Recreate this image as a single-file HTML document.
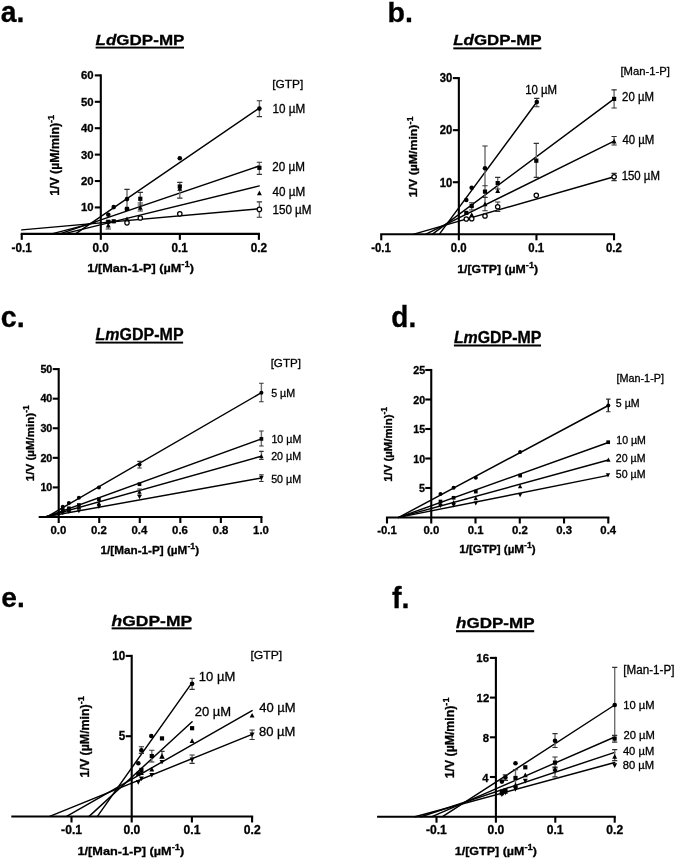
<!DOCTYPE html><html><head><meta charset="utf-8"><style>html,body{margin:0;padding:0;background:#fff;}svg{display:block;filter:grayscale(1) blur(0.3px);}text{font-family:"Liberation Sans", sans-serif;}</style></head><body>
<svg width="675" height="859" viewBox="0 0 675 859">
<rect width="675" height="859" fill="#fff"/>
<g stroke="#000" stroke-width="2.1" fill="none"><line x1="20.7" y1="233.85" x2="259.95" y2="233.85"/><line x1="100.8" y1="74.34" x2="100.8" y2="239.85"/><line x1="21.75" y1="233.85" x2="21.75" y2="239.85"/><line x1="179.85" y1="233.85" x2="179.85" y2="239.85"/><line x1="258.9" y1="233.85" x2="258.9" y2="239.85"/><line x1="94.8" y1="207.44" x2="100.8" y2="207.44"/><line x1="94.8" y1="181.03" x2="100.8" y2="181.03"/><line x1="94.8" y1="154.62" x2="100.8" y2="154.62"/><line x1="94.8" y1="128.21" x2="100.8" y2="128.21"/><line x1="94.8" y1="101.8" x2="100.8" y2="101.8"/><line x1="94.8" y1="75.39" x2="100.8" y2="75.39"/></g>
<g stroke="#000" stroke-width="1.45" fill="none" stroke-linecap="round"><line x1="75.5" y1="233.85" x2="258.9" y2="108.4"/><line x1="59.8" y1="233.85" x2="259.2" y2="166"/><line x1="63.5" y1="233.85" x2="259.2" y2="185.9"/><line x1="51.7" y1="233.85" x2="95" y2="222.6"/><line x1="21.8" y1="229.9" x2="259.2" y2="208.8"/></g>
<path d="M127 189.3V209M259.4 100.7V116.6M140.3 192.4V205M259.4 162.2V174.3M108.3 221V229M140.3 203V211M179.8 182.4V198.1M259.4 201.9V217.2" stroke="#6e6e6e" stroke-width="1.4" fill="none"/>
<path d="M124.35 189.3H129.65M124.35 209H129.65M256.75 100.7H262.05M256.75 116.6H262.05M137.65 192.4H142.95M137.65 205H142.95M256.75 162.2H262.05M256.75 174.3H262.05M105.65 221H110.95M105.65 229H110.95M137.65 203H142.95M137.65 211H142.95M177.15 182.4H182.45M177.15 198.1H182.45M256.75 201.9H262.05M256.75 217.2H262.05" stroke="#303030" stroke-width="1.15" fill="none"/>
<g fill="#000"><circle cx="108.3" cy="214.7" r="2.3"/><circle cx="113.7" cy="207.1" r="2.3"/><circle cx="127" cy="199.1" r="2.3"/><circle cx="179.8" cy="158.3" r="2.3"/><circle cx="259.4" cy="108.6" r="2.3"/><rect x="124.9" y="206.8" width="4.2" height="4.2"/><rect x="138.2" y="196.7" width="4.2" height="4.2"/><rect x="111.6" y="219.2" width="4.2" height="4.2"/><rect x="106.2" y="219.7" width="4.2" height="4.2"/><rect x="257.3" y="165.7" width="4.2" height="4.2"/><rect x="177.7" y="184.4" width="4.2" height="4.2"/><path d="M108.3 222.8L110.75 227.5L105.85 227.5Z"/><path d="M127 216.6L129.45 221.3L124.55 221.3Z"/><path d="M140.3 205.1L142.75 209.8L137.85 209.8Z"/><path d="M179.8 186L182.25 190.7L177.35 190.7Z"/><path d="M259.4 190.5L261.85 195.2L256.95 195.2Z"/><circle cx="127" cy="222.8" r="2.2" fill="#fff" stroke="#000" stroke-width="1.25"/><circle cx="140.3" cy="218" r="2.2" fill="#fff" stroke="#000" stroke-width="1.25"/><circle cx="179.8" cy="213.8" r="2.2" fill="#fff" stroke="#000" stroke-width="1.25"/><circle cx="259.4" cy="209.4" r="2.2" fill="#fff" stroke="#000" stroke-width="1.25"/></g>
<rect x="95.6" y="46.65" width="88.4" height="1.9" fill="#000"/>
<g stroke="#000" stroke-width="2.1" fill="none"><line x1="380.2" y1="234.3" x2="615.1" y2="234.3"/><line x1="458.85" y1="77.04" x2="458.85" y2="240.3"/><line x1="381.25" y1="234.3" x2="381.25" y2="240.3"/><line x1="536.45" y1="234.3" x2="536.45" y2="240.3"/><line x1="614.05" y1="234.3" x2="614.05" y2="240.3"/><line x1="452.85" y1="182.23" x2="458.85" y2="182.23"/><line x1="452.85" y1="130.16" x2="458.85" y2="130.16"/><line x1="452.85" y1="78.09" x2="458.85" y2="78.09"/></g>
<g stroke="#000" stroke-width="1.45" fill="none" stroke-linecap="round"><line x1="439.4" y1="234.1" x2="536.8" y2="102"/><line x1="432.5" y1="234.1" x2="614.1" y2="98.9"/><line x1="426" y1="234.1" x2="614.1" y2="141.2"/><line x1="413.9" y1="234.1" x2="614.1" y2="176.7"/></g>
<path d="M485 146V210.7M536.8 98.4V106.7M471.7 202.7V210M485 185.7V197.3M497.7 177.3V189M536.3 143.3V177.3M614.1 89.8V108M614.1 136.5V145M497.7 202V211.3M614.1 173.3V180.6" stroke="#6e6e6e" stroke-width="1.4" fill="none"/>
<path d="M482.35 146H487.65M482.35 210.7H487.65M534.15 98.4H539.45M534.15 106.7H539.45M469.05 202.7H474.35M469.05 210H474.35M482.35 185.7H487.65M482.35 197.3H487.65M495.05 177.3H500.35M495.05 189H500.35M533.65 143.3H538.95M533.65 177.3H538.95M611.45 89.8H616.75M611.45 108H616.75M611.45 136.5H616.75M611.45 145H616.75M495.05 202H500.35M495.05 211.3H500.35M611.45 173.3H616.75M611.45 180.6H616.75" stroke="#303030" stroke-width="1.15" fill="none"/>
<g fill="#000"><circle cx="466.3" cy="200" r="2.3"/><circle cx="471.7" cy="187.7" r="2.3"/><circle cx="485" cy="168.3" r="2.3"/><circle cx="536.8" cy="102" r="2.3"/><rect x="464.2" y="210.8" width="4.2" height="4.2"/><rect x="469.6" y="203.9" width="4.2" height="4.2"/><rect x="482.9" y="189.5" width="4.2" height="4.2"/><rect x="495.6" y="181" width="4.2" height="4.2"/><rect x="534.2" y="158.6" width="4.2" height="4.2"/><rect x="612" y="96.8" width="4.2" height="4.2"/><path d="M471.7 212.2L474.15 216.9L469.25 216.9Z"/><path d="M485 201.5L487.45 206.2L482.55 206.2Z"/><path d="M497.7 188.2L500.15 192.9L495.25 192.9Z"/><path d="M614.1 138.7L616.55 143.4L611.65 143.4Z"/><circle cx="466.3" cy="219" r="2.2" fill="#fff" stroke="#000" stroke-width="1.25"/><circle cx="471.7" cy="218.7" r="2.2" fill="#fff" stroke="#000" stroke-width="1.25"/><circle cx="485" cy="216" r="2.2" fill="#fff" stroke="#000" stroke-width="1.25"/><circle cx="497.7" cy="206.7" r="2.2" fill="#fff" stroke="#000" stroke-width="1.25"/><circle cx="536.3" cy="195.3" r="2.2" fill="#fff" stroke="#000" stroke-width="1.25"/><circle cx="614.1" cy="176.7" r="2.2" fill="#fff" stroke="#000" stroke-width="1.25"/></g>
<rect x="453.3" y="47.35" width="88" height="2" fill="#000"/>
<g stroke="#000" stroke-width="2.1" fill="none"><line x1="38.71" y1="517" x2="262.45" y2="517"/><line x1="58.7" y1="368.05" x2="58.7" y2="523"/><line x1="99.24" y1="517" x2="99.24" y2="523"/><line x1="139.78" y1="517" x2="139.78" y2="523"/><line x1="180.32" y1="517" x2="180.32" y2="523"/><line x1="220.86" y1="517" x2="220.86" y2="523"/><line x1="261.4" y1="517" x2="261.4" y2="523"/><line x1="52.7" y1="487.42" x2="58.7" y2="487.42"/><line x1="52.7" y1="457.84" x2="58.7" y2="457.84"/><line x1="52.7" y1="428.26" x2="58.7" y2="428.26"/><line x1="52.7" y1="398.68" x2="58.7" y2="398.68"/><line x1="52.7" y1="369.1" x2="58.7" y2="369.1"/></g>
<g stroke="#000" stroke-width="1.45" fill="none" stroke-linecap="round"><line x1="46.1" y1="517.3" x2="261.4" y2="392.7"/><line x1="45" y1="517.3" x2="261.4" y2="438.9"/><line x1="44" y1="517.3" x2="261.4" y2="456.2"/><line x1="43" y1="517.3" x2="261.4" y2="478"/></g>
<path d="M139.5 461.4V468M261.4 383.2V401.7M261.4 431V446M139.5 489V495M261.4 451.4V459.5M261.4 474.9V481.5" stroke="#6e6e6e" stroke-width="1.4" fill="none"/>
<path d="M137.25 461.4H141.75M137.25 468H141.75M259.15 383.2H263.65M259.15 401.7H263.65M259.15 431H263.65M259.15 446H263.65M137.25 489H141.75M137.25 495H141.75M259.15 451.4H263.65M259.15 459.5H263.65M259.15 474.9H263.65M259.15 481.5H263.65" stroke="#303030" stroke-width="1.15" fill="none"/>
<g fill="#000"><circle cx="62.8" cy="506.7" r="2.02"/><circle cx="68.9" cy="503.1" r="2.02"/><circle cx="78.9" cy="497.8" r="2.02"/><circle cx="98.9" cy="487.6" r="2.02"/><circle cx="139.5" cy="464.5" r="2.02"/><circle cx="261.4" cy="392.7" r="2.02"/><rect x="60.95" y="508.15" width="3.7" height="3.7"/><rect x="67.05" y="506.45" width="3.7" height="3.7"/><rect x="77.05" y="503.15" width="3.7" height="3.7"/><rect x="97.05" y="497.35" width="3.7" height="3.7"/><rect x="137.65" y="482.35" width="3.7" height="3.7"/><rect x="259.55" y="437.05" width="3.7" height="3.7"/><path d="M62.8 509.3L64.96 513.44L60.64 513.44Z"/><path d="M68.9 507.8L71.06 511.94L66.74 511.94Z"/><path d="M78.9 504.8L81.06 508.94L76.74 508.94Z"/><path d="M98.9 501.1L101.06 505.24L96.74 505.24Z"/><path d="M139.5 489.7L141.66 493.84L137.34 493.84Z"/><path d="M261.4 454L263.56 458.14L259.24 458.14Z"/><path d="M62.8 515.2L64.96 511.06L60.64 511.06Z"/><path d="M68.9 513.7L71.06 509.56L66.74 509.56Z"/><path d="M78.9 513.3L81.06 509.16L76.74 509.16Z"/><path d="M98.9 508.9L101.06 504.76L96.74 504.76Z"/><path d="M139.5 499.2L141.66 495.06L137.34 495.06Z"/><path d="M261.4 480.2L263.56 476.06L259.24 476.06Z"/></g>
<rect x="95.6" y="341.65" width="87.5" height="1.9" fill="#000"/>
<g stroke="#000" stroke-width="2.1" fill="none"><line x1="385.94" y1="517.5" x2="609.34" y2="517.5"/><line x1="431.25" y1="368.95" x2="431.25" y2="523.5"/><line x1="386.99" y1="517.5" x2="386.99" y2="523.5"/><line x1="475.51" y1="517.5" x2="475.51" y2="523.5"/><line x1="519.77" y1="517.5" x2="519.77" y2="523.5"/><line x1="564.03" y1="517.5" x2="564.03" y2="523.5"/><line x1="608.29" y1="517.5" x2="608.29" y2="523.5"/><line x1="425.25" y1="488" x2="431.25" y2="488"/><line x1="425.25" y1="458.5" x2="431.25" y2="458.5"/><line x1="425.25" y1="429" x2="431.25" y2="429"/><line x1="425.25" y1="399.5" x2="431.25" y2="399.5"/><line x1="425.25" y1="370" x2="431.25" y2="370"/></g>
<g stroke="#000" stroke-width="1.45" fill="none" stroke-linecap="round"><line x1="398.7" y1="517.4" x2="608.3" y2="405.5"/><line x1="398.7" y1="517.4" x2="608.3" y2="442.5"/><line x1="398.7" y1="517.4" x2="608.3" y2="460"/><line x1="398.7" y1="517.4" x2="608.3" y2="475.4"/></g>
<path d="M608.3 399.1V411.7" stroke="#1a1a1a" stroke-width="1.4" fill="none"/>
<path d="M606.05 399.1H610.55M606.05 411.7H610.55" stroke="#303030" stroke-width="1.15" fill="none"/>
<g fill="#000"><circle cx="440.5" cy="493.9" r="2.02"/><circle cx="453.6" cy="487.7" r="2.02"/><circle cx="475.8" cy="477.8" r="2.02"/><circle cx="520.1" cy="452" r="2.02"/><circle cx="608.3" cy="405.5" r="2.02"/><rect x="438.65" y="499.65" width="3.7" height="3.7"/><rect x="451.75" y="495.95" width="3.7" height="3.7"/><rect x="473.95" y="489.75" width="3.7" height="3.7"/><rect x="518.25" y="473.75" width="3.7" height="3.7"/><rect x="606.35" y="440.35" width="3.7" height="3.7"/><path d="M440.5 501.5L442.66 505.64L438.34 505.64Z"/><path d="M453.6 500L455.76 504.14L451.44 504.14Z"/><path d="M475.8 496L477.96 500.14L473.64 500.14Z"/><path d="M520.1 484L522.26 488.14L517.94 488.14Z"/><path d="M608.4 457.6L610.56 461.74L606.24 461.74Z"/><path d="M440.5 508.1L442.66 503.96L438.34 503.96Z"/><path d="M453.6 507.4L455.76 503.26L451.44 503.26Z"/><path d="M475.8 505.6L477.96 501.46L473.64 501.46Z"/><path d="M520.1 497.3L522.26 493.16L517.94 493.16Z"/><path d="M608 477.4L610.16 473.26L605.84 473.26Z"/></g>
<rect x="453.9" y="344.5" width="87.1" height="2" fill="#000"/>
<g stroke="#000" stroke-width="2.1" fill="none"><line x1="11.3" y1="816.5" x2="253.15" y2="816.5"/><line x1="131.7" y1="654.85" x2="131.7" y2="822.5"/><line x1="71.5" y1="816.5" x2="71.5" y2="822.5"/><line x1="191.9" y1="816.5" x2="191.9" y2="822.5"/><line x1="252.1" y1="816.5" x2="252.1" y2="822.5"/><line x1="125.7" y1="736.2" x2="131.7" y2="736.2"/><line x1="125.7" y1="655.9" x2="131.7" y2="655.9"/></g>
<g stroke="#000" stroke-width="1.45" fill="none" stroke-linecap="round"><line x1="97.4" y1="816.4" x2="191.2" y2="683.8"/><line x1="89.1" y1="816.4" x2="192.1" y2="721.8"/><line x1="66.6" y1="816.4" x2="252.1" y2="710.6"/><line x1="49.7" y1="816.4" x2="252.1" y2="734.3"/></g>
<path d="M141.4 746.7V753.3M192.1 678.4V689.3M151.8 750.2V762M162 751.4V758.5M192.1 755V763.3M252.1 730V739.5" stroke="#6e6e6e" stroke-width="1.4" fill="none"/>
<path d="M138.8 746.7H144M138.8 753.3H144M189.5 678.4H194.7M189.5 689.3H194.7M149.2 750.2H154.4M149.2 762H154.4M159.4 751.4H164.6M159.4 758.5H164.6M189.5 755H194.7M189.5 763.3H194.7M249.5 730H254.7M249.5 739.5H254.7" stroke="#303030" stroke-width="1.15" fill="none"/>
<g fill="#000"><circle cx="138.3" cy="763.3" r="2.3"/><circle cx="141.4" cy="750.2" r="2.3"/><circle cx="151.3" cy="736" r="2.3"/><circle cx="192.1" cy="683.8" r="2.3"/><rect x="136.2" y="771.8" width="4.2" height="4.2"/><rect x="139.3" y="767.8" width="4.2" height="4.2"/><rect x="149.7" y="754" width="4.2" height="4.2"/><rect x="159.9" y="736.3" width="4.2" height="4.2"/><rect x="190" y="726.1" width="4.2" height="4.2"/><path d="M141.4 770.2L143.85 774.9L138.95 774.9Z"/><path d="M151.8 766.7L154.25 771.4L149.35 771.4Z"/><path d="M162 753.2L164.45 757.9L159.55 757.9Z"/><path d="M192.1 738.2L194.55 742.9L189.65 742.9Z"/><path d="M252.1 712.9L254.55 717.6L249.65 717.6Z"/><path d="M138.3 784.7L140.75 780L135.85 780Z"/><path d="M141.4 781.2L143.85 776.5L138.95 776.5Z"/><path d="M151.8 777.6L154.25 772.9L149.35 772.9Z"/><path d="M162 764.6L164.45 759.9L159.55 759.9Z"/><path d="M192.1 762.2L194.55 757.5L189.65 757.5Z"/><path d="M252.1 737.3L254.55 732.6L249.65 732.6Z"/></g>
<rect x="111.6" y="627.35" width="80" height="2" fill="#000"/>
<g stroke="#000" stroke-width="2.1" fill="none"><line x1="377.1" y1="816.7" x2="615.75" y2="816.7"/><line x1="495.9" y1="656.85" x2="495.9" y2="822.7"/><line x1="436.5" y1="816.7" x2="436.5" y2="822.7"/><line x1="555.3" y1="816.7" x2="555.3" y2="822.7"/><line x1="614.7" y1="816.7" x2="614.7" y2="822.7"/><line x1="489.9" y1="777" x2="495.9" y2="777"/><line x1="489.9" y1="737.3" x2="495.9" y2="737.3"/><line x1="489.9" y1="697.6" x2="495.9" y2="697.6"/><line x1="489.9" y1="657.9" x2="495.9" y2="657.9"/></g>
<g stroke="#000" stroke-width="1.45" fill="none" stroke-linecap="round"><line x1="442.5" y1="816.7" x2="614.7" y2="705"/><line x1="432" y1="816.7" x2="613.6" y2="737.5"/><line x1="421" y1="816.7" x2="614.7" y2="752.4"/><line x1="415" y1="816.7" x2="614.7" y2="762.5"/></g>
<path d="M505.4 774.8V780.4M555 733.6V747.5M614.7 667.4V742M515.5 769.7V786M555 757V768M614.6 735.4V742.1M614.7 749.6V760.6M555 767V776.8" stroke="#6e6e6e" stroke-width="1.4" fill="none"/>
<path d="M502.8 774.8H508M502.8 780.4H508M552.4 733.6H557.6M552.4 747.5H557.6M612.1 667.4H617.3M612.1 742H617.3M512.9 769.7H518.1M512.9 786H518.1M552.4 757H557.6M552.4 768H557.6M612 735.4H617.2M612 742.1H617.2M612.1 749.6H617.3M612.1 760.6H617.3M552.4 767H557.6M552.4 776.8H557.6" stroke="#303030" stroke-width="1.15" fill="none"/>
<g fill="#000"><circle cx="501.9" cy="781.6" r="2.3"/><circle cx="505.4" cy="777.4" r="2.3"/><circle cx="515.5" cy="763.2" r="2.3"/><circle cx="555" cy="740.7" r="2.3"/><circle cx="614.7" cy="705" r="2.3"/><rect x="499.8" y="789.5" width="4.2" height="4.2"/><rect x="503.3" y="788.3" width="4.2" height="4.2"/><rect x="513.4" y="775.9" width="4.2" height="4.2"/><rect x="523.2" y="765.2" width="4.2" height="4.2"/><rect x="552.9" y="760.5" width="4.2" height="4.2"/><rect x="612.5" y="736.5" width="4.2" height="4.2"/><path d="M501.9 790.5L504.35 795.2L499.45 795.2Z"/><path d="M505.4 789L507.85 793.7L502.95 793.7Z"/><path d="M515.5 782.5L517.95 787.2L513.05 787.2Z"/><path d="M525.3 772.5L527.75 777.2L522.85 777.2Z"/><path d="M555 766.6L557.45 771.3L552.55 771.3Z"/><path d="M614.7 754L617.15 758.7L612.25 758.7Z"/><path d="M501.9 797.1L504.35 792.4L499.45 792.4Z"/><path d="M505.4 795.3L507.85 790.6L502.95 790.6Z"/><path d="M515.5 791.8L517.95 787.1L513.05 787.1Z"/><path d="M525.3 783.5L527.75 778.8L522.85 778.8Z"/><path d="M555 774L557.45 769.3L552.55 769.3Z"/><path d="M614.7 768L617.15 763.3L612.25 763.3Z"/></g>
<rect x="456" y="630.15" width="78.2" height="2.1" fill="#000"/>
<g transform="translate(0.782 21.776) scale(1.0127 1.0479)"><text id="La" x="0" y="0" font-size="28" font-weight="bold" stroke="#000" stroke-width="0.291">a.</text></g>
<g transform="translate(387.612 22.080) scale(1.0215 1.0185)"><text id="Lb" x="0" y="0" font-size="28" font-weight="bold" stroke="#000" stroke-width="0.294">b.</text></g>
<g transform="translate(0.726 327.084) scale(1.0248 1.0321)"><text id="Lc" x="0" y="0" font-size="28" font-weight="bold" stroke="#000" stroke-width="0.292">c.</text></g>
<g transform="translate(391.291 327.033) scale(1.0002 1.0310)"><text id="Ld" x="0" y="0" font-size="28" font-weight="bold" stroke="#000" stroke-width="0.295">d.</text></g>
<g transform="translate(1.343 607.390) scale(1.0026 1.0158)"><text id="Le" x="0" y="0" font-size="28" font-weight="bold" stroke="#000" stroke-width="0.297">e.</text></g>
<g transform="translate(391.986 607.598) scale(1.0240 1.0422)"><text id="Lf" x="0" y="0" font-size="28" font-weight="bold" stroke="#000" stroke-width="0.290">f.</text></g>
<g transform="translate(95.590 44.962) scale(1.0632 0.9584)"><text id="Ta" x="0" y="0" font-size="16" font-weight="bold" stroke="#000" stroke-width="0.297"><tspan font-style="italic">Ld</tspan>GDP-MP</text></g>
<g transform="translate(453.287 45.463) scale(1.0573 0.9380)"><text id="Tb" x="0" y="0" font-size="16" font-weight="bold" stroke="#000" stroke-width="0.301"><tspan font-style="italic">Ld</tspan>GDP-MP</text></g>
<g transform="translate(95.599 339.950) scale(1.0000 1.0000)"><text id="Tc" x="0" y="0" font-size="16" font-weight="bold" stroke="#000" stroke-width="0.300"><tspan font-style="italic">Lm</tspan>GDP-MP</text></g>
<g transform="translate(453.901 342.851) scale(0.9945 0.9786)"><text id="Td" x="0" y="0" font-size="16" font-weight="bold" stroke="#000" stroke-width="0.304"><tspan font-style="italic">Lm</tspan>GDP-MP</text></g>
<g transform="translate(111.587 626.059) scale(1.0924 0.9380)"><text id="Te" x="0" y="0" font-size="16" font-weight="bold" stroke="#000" stroke-width="0.296"><tspan font-style="italic">h</tspan>GDP-MP</text></g>
<g transform="translate(455.980 627.933) scale(1.0649 0.9175)"><text id="Tf" x="0" y="0" font-size="16" font-weight="bold" stroke="#000" stroke-width="0.303"><tspan font-style="italic">h</tspan>GDP-MP</text></g>
<g transform="translate(58.908 195.815) scale(1.0545 1.0285)"><text id="Ya" x="0" y="0" font-size="12" font-weight="bold" stroke="#000" stroke-width="0.288" transform="rotate(-90)">1/V (µM/min)<tspan font-size="9" dy="-5">-1</tspan></text></g>
<g transform="translate(417.414 197.223) scale(0.9487 1.0262)"><text id="Yb" x="0" y="0" font-size="12" font-weight="bold" stroke="#000" stroke-width="0.304" transform="rotate(-90)">1/V (µM/min)<tspan font-size="9" dy="-5">-1</tspan></text></g>
<g transform="translate(33.644 481.176) scale(0.9474 0.9645)"><text id="Yc" x="0" y="0" font-size="12" font-weight="bold" stroke="#000" stroke-width="0.314" transform="rotate(-90)">1/V (µM/min)<tspan font-size="9" dy="-5">-1</tspan></text></g>
<g transform="translate(392.059 481.777) scale(0.9463 0.9495)"><text id="Yd" x="0" y="0" font-size="12" font-weight="bold" stroke="#000" stroke-width="0.316" transform="rotate(-90)">1/V (µM/min)<tspan font-size="9" dy="-5">-1</tspan></text></g>
<g transform="translate(89.111 777.426) scale(1.0037 1.0325)"><text id="Ye" x="0" y="0" font-size="12" font-weight="bold" stroke="#000" stroke-width="0.295" transform="rotate(-90)">1/V (µM/min)<tspan font-size="9" dy="-5">-1</tspan></text></g>
<g transform="translate(453.514 778.315) scale(1.0031 1.0256)"><text id="Yf" x="0" y="0" font-size="12" font-weight="bold" stroke="#000" stroke-width="0.296" transform="rotate(-90)">1/V (µM/min)<tspan font-size="9" dy="-5">-1</tspan></text></g>
<g transform="translate(87.363 272.002) scale(1.0576 0.9819)"><text id="Xa" x="0" y="0" font-size="12" font-weight="bold" stroke="#000" stroke-width="0.294">1/[Man-1-P] (µM<tspan font-size="9" dy="-5">-1</tspan><tspan dy="5">)</tspan></text></g>
<g transform="translate(457.280 272.502) scale(1.0255 0.9819)"><text id="Xb" x="0" y="0" font-size="12" font-weight="bold" stroke="#000" stroke-width="0.299">1/[GTP] (µM<tspan font-size="9" dy="-5">-1</tspan><tspan dy="5">)</tspan></text></g>
<g transform="translate(100.507 553.890) scale(0.9775 0.9815)"><text id="Xc" x="0" y="0" font-size="12" font-weight="bold" stroke="#000" stroke-width="0.306">1/[Man-1-P] (µM<tspan font-size="9" dy="-5">-1</tspan><tspan dy="5">)</tspan></text></g>
<g transform="translate(459.325 553.293) scale(0.9674 0.9814)"><text id="Xd" x="0" y="0" font-size="12" font-weight="bold" stroke="#000" stroke-width="0.308">1/[GTP] (µM<tspan font-size="9" dy="-5">-1</tspan><tspan dy="5">)</tspan></text></g>
<g transform="translate(77.467 854.829) scale(1.0600 0.9845)"><text id="Xe" x="0" y="0" font-size="12" font-weight="bold" stroke="#000" stroke-width="0.293">1/[Man-1-P] (µM<tspan font-size="9" dy="-5">-1</tspan><tspan dy="5">)</tspan></text></g>
<g transform="translate(454.768 854.829) scale(1.0421 0.9845)"><text id="Xf" x="0" y="0" font-size="12" font-weight="bold" stroke="#000" stroke-width="0.296">1/[GTP] (µM<tspan font-size="9" dy="-5">-1</tspan><tspan dy="5">)</tspan></text></g>
<g transform="translate(272.529 112.745) scale(1.0246 1.0486)"><text id="Ga1" x="0" y="0" font-size="11.4" font-weight="normal" stroke="#000" stroke-width="0.289">10 µM</text></g>
<g transform="translate(272.265 87.877) scale(1.0425 0.9921)"><text id="Ga0" x="0" y="0" font-size="11.4" font-weight="normal" stroke="#000" stroke-width="0.295">[GTP]</text></g>
<g transform="translate(272.342 170.600) scale(1.0246 1.0486)"><text id="Ga2" x="0" y="0" font-size="11.4" font-weight="normal" stroke="#000" stroke-width="0.289">20 µM</text></g>
<g transform="translate(272.596 195.800) scale(1.0246 1.0486)"><text id="Ga3" x="0" y="0" font-size="11.4" font-weight="normal" stroke="#000" stroke-width="0.289">40 µM</text></g>
<g transform="translate(272.430 214.000) scale(1.0246 1.0486)"><text id="Ga4" x="0" y="0" font-size="11.4" font-weight="normal" stroke="#000" stroke-width="0.289">150 µM</text></g>
<g transform="translate(622.105 100.723) scale(0.9841 1.0243)"><text id="Gb2" x="0" y="0" font-size="11.6" font-weight="normal" stroke="#000" stroke-width="0.299">20 µM</text></g>
<g transform="translate(620.420 75.110) scale(0.9716 0.9632)"><text id="Gb0" x="0" y="0" font-size="11.6" font-weight="normal" stroke="#000" stroke-width="0.310">[Man-1-P]</text></g>
<g transform="translate(525.155 93.700) scale(0.9841 1.0243)"><text id="Gb1" x="0" y="0" font-size="11.6" font-weight="normal" stroke="#000" stroke-width="0.299">10 µM</text></g>
<g transform="translate(622.402 143.500) scale(0.9841 1.0243)"><text id="Gb3" x="0" y="0" font-size="11.6" font-weight="normal" stroke="#000" stroke-width="0.299">40 µM</text></g>
<g transform="translate(621.655 179.800) scale(0.9841 1.0243)"><text id="Gb4" x="0" y="0" font-size="11.6" font-weight="normal" stroke="#000" stroke-width="0.299">150 µM</text></g>
<g transform="translate(271.405 442.950) scale(0.9920 1.0000)"><text id="Gc2" x="0" y="0" font-size="10.8" font-weight="normal" stroke="#000" stroke-width="0.301">10 µM</text></g>
<g transform="translate(270.655 367.369) scale(1.0741 1.0102)"><text id="Gc0" x="0" y="0" font-size="10.8" font-weight="normal" stroke="#000" stroke-width="0.288">[GTP]</text></g>
<g transform="translate(271.159 396.700) scale(0.9920 1.0000)"><text id="Gc1" x="0" y="0" font-size="10.8" font-weight="normal" stroke="#000" stroke-width="0.301">5 µM</text></g>
<g transform="translate(271.159 459.500) scale(0.9920 1.0000)"><text id="Gc3" x="0" y="0" font-size="10.8" font-weight="normal" stroke="#000" stroke-width="0.301">20 µM</text></g>
<g transform="translate(271.159 482.700) scale(0.9920 1.0000)"><text id="Gc4" x="0" y="0" font-size="10.8" font-weight="normal" stroke="#000" stroke-width="0.301">50 µM</text></g>
<g transform="translate(616.291 444.084) scale(1.0090 1.0265)"><text id="Gd2" x="0" y="0" font-size="10.5" font-weight="normal" stroke="#000" stroke-width="0.295">10 µM</text></g>
<g transform="translate(616.429 381.800) scale(1.0325 1.0499)"><text id="Gd0" x="0" y="0" font-size="10.5" font-weight="normal" stroke="#000" stroke-width="0.288">[Man-1-P]</text></g>
<g transform="translate(615.848 407.400) scale(1.0090 1.0265)"><text id="Gd1" x="0" y="0" font-size="10.5" font-weight="normal" stroke="#000" stroke-width="0.295">5 µM</text></g>
<g transform="translate(615.851 461.900) scale(1.0090 1.0265)"><text id="Gd3" x="0" y="0" font-size="10.5" font-weight="normal" stroke="#000" stroke-width="0.295">20 µM</text></g>
<g transform="translate(615.848 477.800) scale(1.0090 1.0265)"><text id="Gd4" x="0" y="0" font-size="10.5" font-weight="normal" stroke="#000" stroke-width="0.295">50 µM</text></g>
<g transform="translate(198.841 681.421) scale(1.0073 1.0022)"><text id="Ge1" x="0" y="0" font-size="12.9" font-weight="normal" stroke="#000" stroke-width="0.299">10 µM</text></g>
<g transform="translate(250.396 659.452) scale(0.9424 0.8875)"><text id="Ge0" x="0" y="0" font-size="12.9" font-weight="normal" stroke="#000" stroke-width="0.328">[GTP]</text></g>
<g transform="translate(194.692 716.300) scale(1.0073 1.0022)"><text id="Ge2" x="0" y="0" font-size="12.9" font-weight="normal" stroke="#000" stroke-width="0.299">20 µM</text></g>
<g transform="translate(259.202 712.300) scale(1.0073 1.0022)"><text id="Ge3" x="0" y="0" font-size="12.9" font-weight="normal" stroke="#000" stroke-width="0.299">40 µM</text></g>
<g transform="translate(258.951 736.000) scale(1.0073 1.0022)"><text id="Ge4" x="0" y="0" font-size="12.9" font-weight="normal" stroke="#000" stroke-width="0.299">80 µM</text></g>
<g transform="translate(623.298 709.017) scale(0.9919 0.9774)"><text id="Gf1" x="0" y="0" font-size="11.3" font-weight="normal" stroke="#000" stroke-width="0.305">10 µM</text></g>
<g transform="translate(623.330 673.997) scale(1.0305 1.0637)"><text id="Gf0" x="0" y="0" font-size="11.3" font-weight="normal" stroke="#000" stroke-width="0.287">[Man-1-P]</text></g>
<g transform="translate(623.453 739.200) scale(0.9919 0.9774)"><text id="Gf2" x="0" y="0" font-size="11.3" font-weight="normal" stroke="#000" stroke-width="0.305">20 µM</text></g>
<g transform="translate(622.900 754.500) scale(0.9919 0.9774)"><text id="Gf3" x="0" y="0" font-size="11.3" font-weight="normal" stroke="#000" stroke-width="0.305">40 µM</text></g>
<g transform="translate(622.653 769.400) scale(0.9919 0.9774)"><text id="Gf4" x="0" y="0" font-size="11.3" font-weight="normal" stroke="#000" stroke-width="0.305">80 µM</text></g>
<g transform="translate(80.992 79.361) scale(1.0131 1.0426)"><text id="Ya_60" x="0" y="0" font-size="11.2" font-weight="bold" stroke="#000" stroke-width="0.292">60</text></g>
<g transform="translate(92.526 251.588) scale(0.9968 1.0363)"><text id="Xa_0_0" x="0" y="0" font-size="11.8" font-weight="bold" stroke="#000" stroke-width="0.295">0.0</text></g>
<g transform="translate(80.992 211.411) scale(1.0131 1.0426)"><text id="Ya_10" x="0" y="0" font-size="11.2" font-weight="bold" stroke="#000" stroke-width="0.292">10</text></g>
<g transform="translate(80.992 185.105) scale(1.0131 1.0426)"><text id="Ya_20" x="0" y="0" font-size="11.2" font-weight="bold" stroke="#000" stroke-width="0.292">20</text></g>
<g transform="translate(80.992 158.544) scale(1.0131 1.0426)"><text id="Ya_30" x="0" y="0" font-size="11.2" font-weight="bold" stroke="#000" stroke-width="0.292">30</text></g>
<g transform="translate(80.992 132.233) scale(1.0131 1.0426)"><text id="Ya_40" x="0" y="0" font-size="11.2" font-weight="bold" stroke="#000" stroke-width="0.292">40</text></g>
<g transform="translate(80.992 105.675) scale(1.0131 1.0426)"><text id="Ya_50" x="0" y="0" font-size="11.2" font-weight="bold" stroke="#000" stroke-width="0.292">50</text></g>
<g transform="translate(11.606 251.588) scale(0.9968 1.0363)"><text id="Xa_m0_1" x="0" y="0" font-size="11.8" font-weight="bold" stroke="#000" stroke-width="0.295">-0.1</text></g>
<g transform="translate(171.574 251.588) scale(0.9968 1.0363)"><text id="Xa_0_1" x="0" y="0" font-size="11.8" font-weight="bold" stroke="#000" stroke-width="0.295">0.1</text></g>
<g transform="translate(250.625 251.588) scale(0.9968 1.0363)"><text id="Xa_0_2" x="0" y="0" font-size="11.8" font-weight="bold" stroke="#000" stroke-width="0.295">0.2</text></g>
<g transform="translate(439.847 82.350) scale(1.0131 1.0742)"><text id="Yb_30" x="0" y="0" font-size="11.1" font-weight="bold" stroke="#000" stroke-width="0.287">30</text></g>
<g transform="translate(450.850 251.540) scale(0.9968 1.0425)"><text id="Xb_0_0" x="0" y="0" font-size="11.4" font-weight="bold" stroke="#000" stroke-width="0.294">0.0</text></g>
<g transform="translate(439.847 186.587) scale(1.0131 1.0742)"><text id="Yb_10" x="0" y="0" font-size="11.1" font-weight="bold" stroke="#000" stroke-width="0.287">10</text></g>
<g transform="translate(439.847 134.467) scale(1.0131 1.0742)"><text id="Yb_20" x="0" y="0" font-size="11.1" font-weight="bold" stroke="#000" stroke-width="0.287">20</text></g>
<g transform="translate(371.255 251.540) scale(0.9968 1.0425)"><text id="Xb_m0_1" x="0" y="0" font-size="11.4" font-weight="bold" stroke="#000" stroke-width="0.294">-0.1</text></g>
<g transform="translate(528.324 251.540) scale(0.9968 1.0425)"><text id="Xb_0_1" x="0" y="0" font-size="11.4" font-weight="bold" stroke="#000" stroke-width="0.294">0.1</text></g>
<g transform="translate(606.049 251.540) scale(0.9968 1.0425)"><text id="Xb_0_2" x="0" y="0" font-size="11.4" font-weight="bold" stroke="#000" stroke-width="0.294">0.2</text></g>
<g transform="translate(40.385 372.726) scale(1.0329 1.0505)"><text id="Yc_50" x="0" y="0" font-size="10.4" font-weight="bold" stroke="#000" stroke-width="0.288">50</text></g>
<g transform="translate(50.515 533.738) scale(1.0175 1.0426)"><text id="Xc_0_0" x="0" y="0" font-size="11.2" font-weight="bold" stroke="#000" stroke-width="0.291">0.0</text></g>
<g transform="translate(40.385 491.095) scale(1.0329 1.0505)"><text id="Yc_10" x="0" y="0" font-size="10.4" font-weight="bold" stroke="#000" stroke-width="0.288">10</text></g>
<g transform="translate(40.385 461.570) scale(1.0329 1.0505)"><text id="Yc_20" x="0" y="0" font-size="10.4" font-weight="bold" stroke="#000" stroke-width="0.288">20</text></g>
<g transform="translate(40.385 431.788) scale(1.0329 1.0505)"><text id="Yc_30" x="0" y="0" font-size="10.4" font-weight="bold" stroke="#000" stroke-width="0.288">30</text></g>
<g transform="translate(40.385 402.260) scale(1.0329 1.0505)"><text id="Yc_40" x="0" y="0" font-size="10.4" font-weight="bold" stroke="#000" stroke-width="0.288">40</text></g>
<g transform="translate(91.027 533.738) scale(1.0175 1.0426)"><text id="Xc_0_2" x="0" y="0" font-size="11.2" font-weight="bold" stroke="#000" stroke-width="0.291">0.2</text></g>
<g transform="translate(131.417 533.738) scale(1.0175 1.0426)"><text id="Xc_0_4" x="0" y="0" font-size="11.2" font-weight="bold" stroke="#000" stroke-width="0.291">0.4</text></g>
<g transform="translate(172.058 533.738) scale(1.0175 1.0426)"><text id="Xc_0_6" x="0" y="0" font-size="11.2" font-weight="bold" stroke="#000" stroke-width="0.291">0.6</text></g>
<g transform="translate(212.575 533.738) scale(1.0175 1.0426)"><text id="Xc_0_8" x="0" y="0" font-size="11.2" font-weight="bold" stroke="#000" stroke-width="0.291">0.8</text></g>
<g transform="translate(253.086 533.738) scale(1.0175 1.0426)"><text id="Xc_1_0" x="0" y="0" font-size="11.2" font-weight="bold" stroke="#000" stroke-width="0.291">1.0</text></g>
<g transform="translate(413.248 374.155) scale(1.0004 1.0300)"><text id="Yd_25" x="0" y="0" font-size="10.7" font-weight="bold" stroke="#000" stroke-width="0.296">25</text></g>
<g transform="translate(423.420 533.744) scale(1.0071 1.0300)"><text id="Xd_0_0" x="0" y="0" font-size="11.3" font-weight="bold" stroke="#000" stroke-width="0.295">0.0</text></g>
<g transform="translate(419.000 492.034) scale(1.0004 1.0300)"><text id="Yd_5" x="0" y="0" font-size="10.7" font-weight="bold" stroke="#000" stroke-width="0.296">5</text></g>
<g transform="translate(413.242 462.655) scale(1.0004 1.0300)"><text id="Yd_10" x="0" y="0" font-size="10.7" font-weight="bold" stroke="#000" stroke-width="0.296">10</text></g>
<g transform="translate(413.248 433.034) scale(1.0004 1.0300)"><text id="Yd_15" x="0" y="0" font-size="10.7" font-weight="bold" stroke="#000" stroke-width="0.296">15</text></g>
<g transform="translate(413.242 403.655) scale(1.0004 1.0300)"><text id="Yd_20" x="0" y="0" font-size="10.7" font-weight="bold" stroke="#000" stroke-width="0.296">20</text></g>
<g transform="translate(377.244 533.744) scale(1.0071 1.0300)"><text id="Xd_m0_1" x="0" y="0" font-size="11.3" font-weight="bold" stroke="#000" stroke-width="0.295">-0.1</text></g>
<g transform="translate(467.702 533.744) scale(1.0071 1.0300)"><text id="Xd_0_1" x="0" y="0" font-size="11.3" font-weight="bold" stroke="#000" stroke-width="0.295">0.1</text></g>
<g transform="translate(511.991 533.744) scale(1.0071 1.0300)"><text id="Xd_0_2" x="0" y="0" font-size="11.3" font-weight="bold" stroke="#000" stroke-width="0.295">0.2</text></g>
<g transform="translate(556.275 533.744) scale(1.0071 1.0300)"><text id="Xd_0_3" x="0" y="0" font-size="11.3" font-weight="bold" stroke="#000" stroke-width="0.295">0.3</text></g>
<g transform="translate(600.310 533.744) scale(1.0071 1.0300)"><text id="Xd_0_4" x="0" y="0" font-size="11.3" font-weight="bold" stroke="#000" stroke-width="0.295">0.4</text></g>
<g transform="translate(112.342 660.136) scale(1.0131 1.0483)"><text id="Ye_10" x="0" y="0" font-size="11.5" font-weight="bold" stroke="#000" stroke-width="0.291">10</text></g>
<g transform="translate(123.448 834.044) scale(1.0032 1.0074)"><text id="Xe_0_0" x="0" y="0" font-size="12.1" font-weight="bold" stroke="#000" stroke-width="0.298">0.0</text></g>
<g transform="translate(118.671 740.316) scale(1.0131 1.0483)"><text id="Ye_5" x="0" y="0" font-size="11.5" font-weight="bold" stroke="#000" stroke-width="0.291">5</text></g>
<g transform="translate(61.117 834.044) scale(1.0032 1.0074)"><text id="Xe_m0_1" x="0" y="0" font-size="12.1" font-weight="bold" stroke="#000" stroke-width="0.298">-0.1</text></g>
<g transform="translate(183.525 834.044) scale(1.0032 1.0074)"><text id="Xe_0_1" x="0" y="0" font-size="12.1" font-weight="bold" stroke="#000" stroke-width="0.298">0.1</text></g>
<g transform="translate(243.848 834.044) scale(1.0032 1.0074)"><text id="Xe_0_2" x="0" y="0" font-size="12.1" font-weight="bold" stroke="#000" stroke-width="0.298">0.2</text></g>
<g transform="translate(476.346 662.468) scale(1.0045 1.0425)"><text id="Yf_16" x="0" y="0" font-size="11.35" font-weight="bold" stroke="#000" stroke-width="0.293">16</text></g>
<g transform="translate(487.516 834.047) scale(1.0165 1.0074)"><text id="Xf_0_0" x="0" y="0" font-size="11.9" font-weight="bold" stroke="#000" stroke-width="0.296">0.0</text></g>
<g transform="translate(482.372 781.568) scale(1.0045 1.0425)"><text id="Yf_4" x="0" y="0" font-size="11.35" font-weight="bold" stroke="#000" stroke-width="0.293">4</text></g>
<g transform="translate(482.625 741.863) scale(1.0045 1.0425)"><text id="Yf_8" x="0" y="0" font-size="11.35" font-weight="bold" stroke="#000" stroke-width="0.293">8</text></g>
<g transform="translate(476.592 702.047) scale(1.0045 1.0425)"><text id="Yf_12" x="0" y="0" font-size="11.35" font-weight="bold" stroke="#000" stroke-width="0.293">12</text></g>
<g transform="translate(425.956 834.047) scale(1.0165 1.0074)"><text id="Xf_m0_1" x="0" y="0" font-size="11.9" font-weight="bold" stroke="#000" stroke-width="0.296">-0.1</text></g>
<g transform="translate(546.792 834.047) scale(1.0165 1.0074)"><text id="Xf_0_1" x="0" y="0" font-size="11.9" font-weight="bold" stroke="#000" stroke-width="0.296">0.1</text></g>
<g transform="translate(606.317 834.047) scale(1.0165 1.0074)"><text id="Xf_0_2" x="0" y="0" font-size="11.9" font-weight="bold" stroke="#000" stroke-width="0.296">0.2</text></g>
</svg></body></html>
